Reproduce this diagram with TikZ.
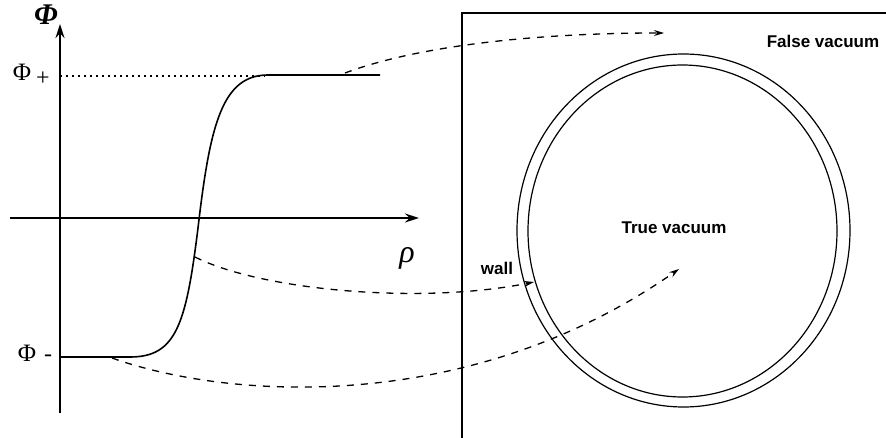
\documentclass[tikz,border=0pt]{standalone}
\usepackage{fontspec}
\setmainfont{Liberation Serif}
\newfontfamily\lsans{Liberation Sans}
\usetikzlibrary{arrows.meta}
\tikzset{
  axis/.style={line width=1.4pt,-{Stealth[length=14pt,width=9pt]}},
  dashy/.style={line width=1.3pt,dash pattern=on 7pt off 7pt,-{Stealth[length=10pt,width=6pt]}},
  lbl/.style={font=\lsans\bfseries\fontsize{17}{19}\selectfont,inner sep=0pt},
  sym/.style={inner sep=0pt},
}
\begin{document}
\begin{tikzpicture}[x=1pt,y=-1pt]
\useasboundingbox (0,0) rectangle (886,438);
% axes
\coordinate (ybot) at (60,413);
\coordinate (ytop) at (60,24);
\coordinate (xl) at (10,218);
\coordinate (xr) at (419,218);
\draw[axis] (ybot) -- (ytop);
\draw[axis] (xl) -- (xr);
\node[sym,font=\fontsize{30}{32}\selectfont\bfseries\itshape] (phi) at (46,15) {Φ};
\node[sym,font=\fontsize{32}{34}\selectfont\itshape] (rho) at (407,258) {ρ};
% plus / minus labels
\node[sym,font=\fontsize{25}{27}\selectfont] (phip) at (22,72) {Φ};
\node[sym,font=\fontsize{24}{26}\selectfont] (plus) at (43,79) {+};
\node[sym,font=\fontsize{25}{27}\selectfont] (phim) at (27,353) {Φ};
\node[sym,font=\fontsize{24}{26}\selectfont] (minus) at (48,358) {-};
% dotted level
\coordinate (d0) at (60,76);
\coordinate (d1) at (265,76);
\draw[line width=1.1pt,dash pattern=on 2pt off 4pt] (d0) -- (d1);
% kink profile
\coordinate (k0) at (60,357);
\coordinate (k1) at (130,357);
\coordinate (km) at (198,228);
\coordinate (k2) at (268,75);
\coordinate (k3) at (380,75);
\draw[line width=1.6pt] (k0) -- (k1) .. controls (176,357) and (186,325) .. (km)
  .. controls (210,125) and (222,75) .. (k2) -- (k3);
% box
\coordinate (b0) at (462,438);
\coordinate (b1) at (462,13);
\coordinate (b2) at (886,13);
\draw[line width=1.4pt] (b0) -- (b1) -- (b2);
% bubble
\draw[line width=1.2pt] (683.5,230.5) ellipse [x radius=166.5, y radius=176.5];
\draw[line width=1.2pt] (682.5,231) ellipse [x radius=154.5, y radius=166];
% labels
\node[lbl] (fv) at (823,41) {False vacuum};
\node[lbl] (tv) at (674,228) {True vacuum};
\node[lbl] (wl) at (497,268) {wall};
% mapping arrows
\coordinate (s1) at (345,73);
\coordinate (e1) at (664,33);
\coordinate (s2) at (195,257);
\coordinate (e2) at (534,282);
\coordinate (s3) at (112,358);
\coordinate (e3) at (679,269);
\draw[dashy] (s1) .. controls (420,45) and (540,33) .. (e1);
\draw[dashy] (s2) .. controls (260,290) and (420,305) .. (e2);
\draw[dashy] (s3) .. controls (230,400) and (470,415) .. (e3);
\end{tikzpicture}
\end{document}
